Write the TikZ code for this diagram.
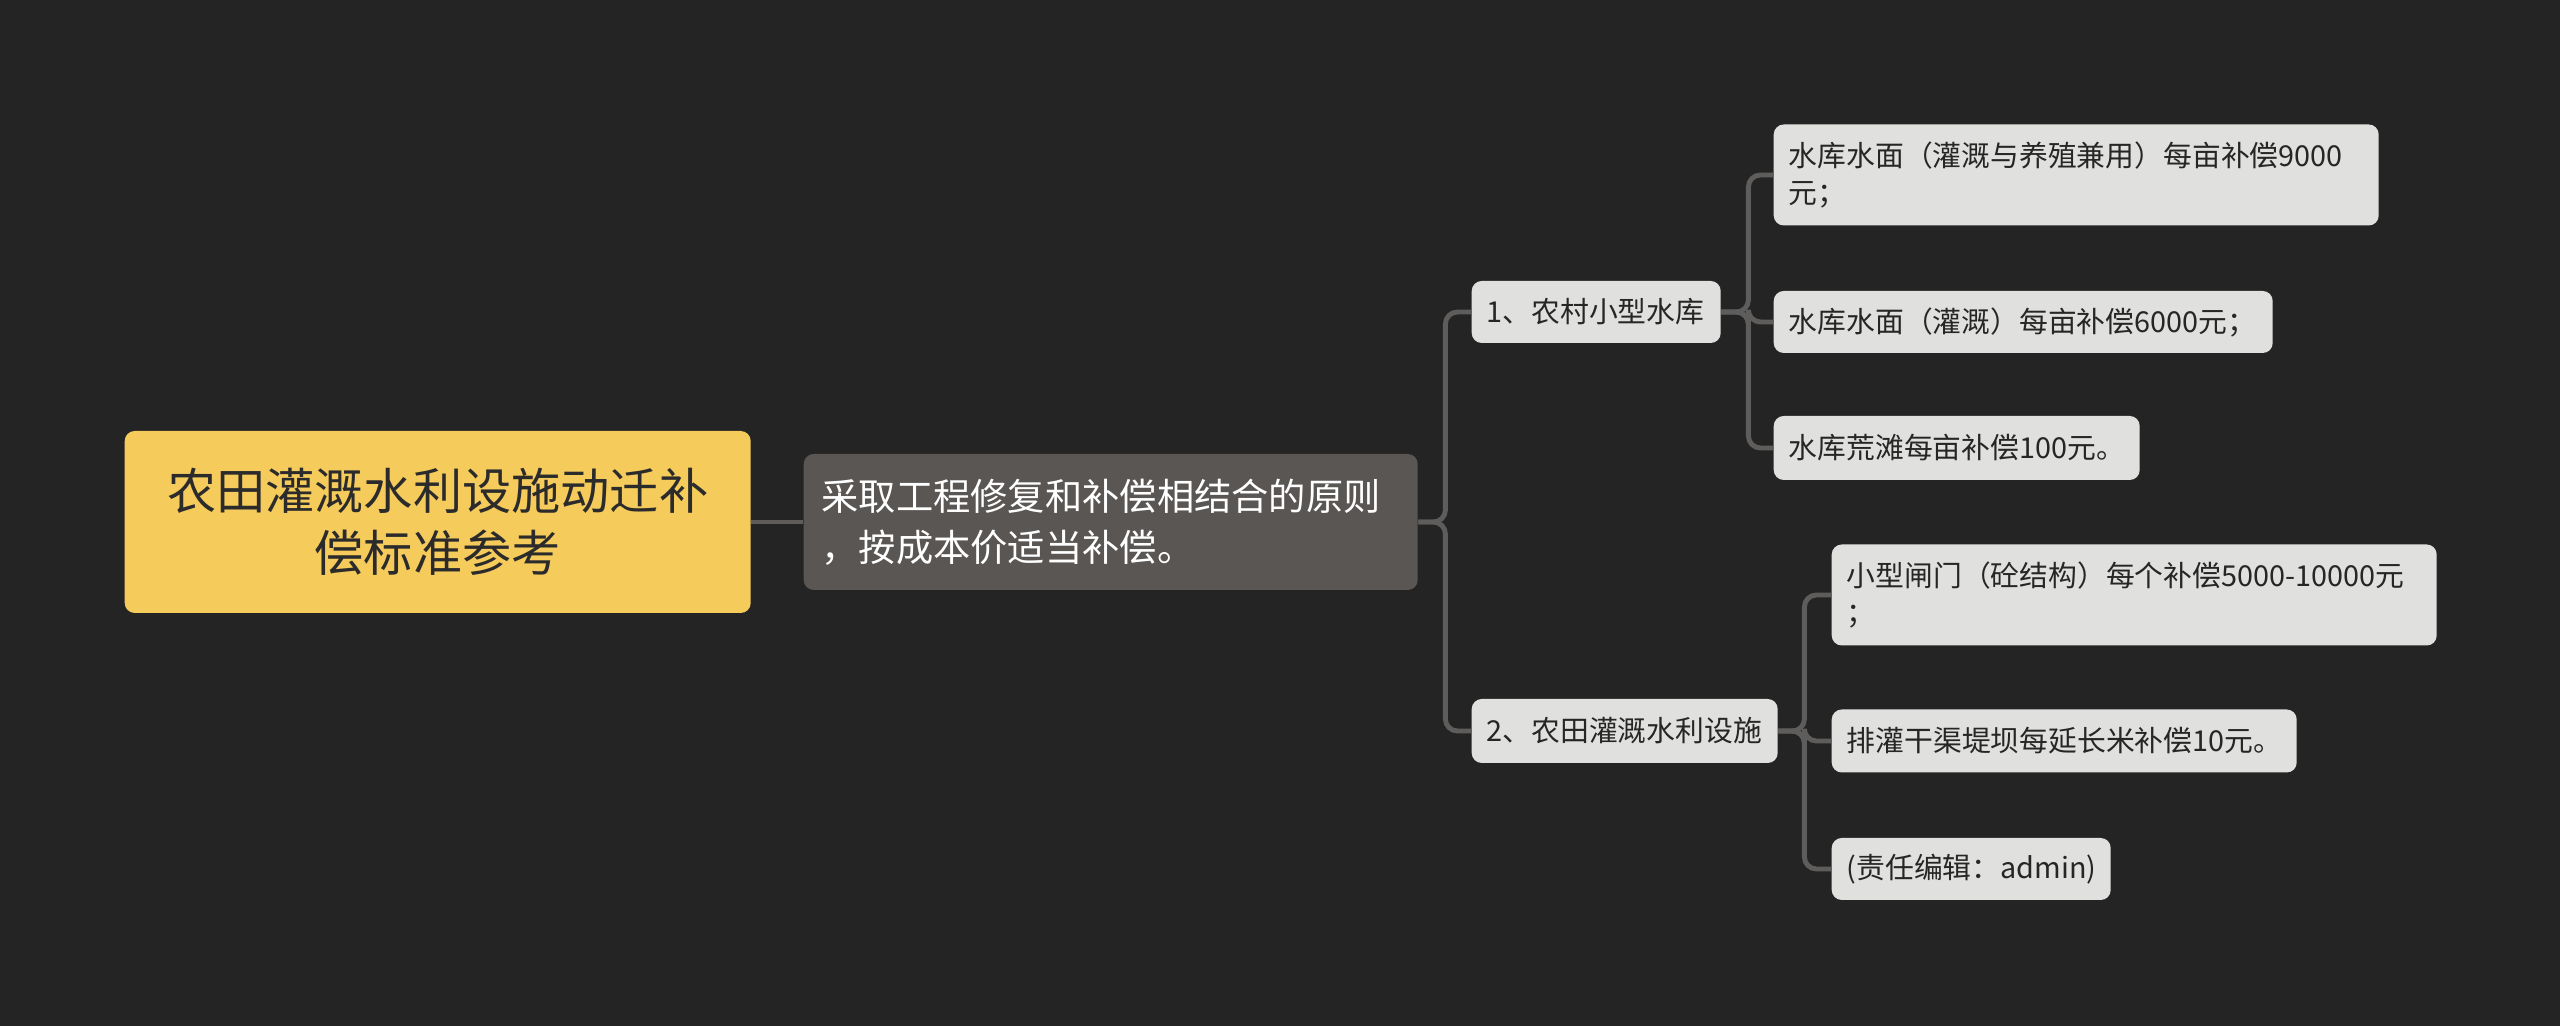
\documentclass[tikz,border=0pt]{standalone}
\usepackage{fontspec}
\setmainfont{Noto Sans CJK SC}
\definecolor{bgdark}{HTML}{242424}
\definecolor{rootyellow}{HTML}{F5CB5C}
\definecolor{roottext}{HTML}{2B2B2B}
\definecolor{causegrey}{HTML}{595654}
\definecolor{itemgrey}{HTML}{E0E0DE}
\definecolor{itemtext}{HTML}{262626}
\definecolor{linegrey}{HTML}{5F5D5B}
\tikzset{
  box/.style={anchor=west, rounded corners=0.1cm, inner xsep=0.15cm, inner ysep=0pt, align=left},
  rootbox/.style={box, fill=rootyellow, text=roottext, align=center, font=\fontsize{14pt}{17.6pt}\selectfont},
  causebox/.style={box, fill=causegrey, text=white, inner xsep=0.18cm, font=\fontsize{10.6pt}{14.5pt}\selectfont},
  itembox/.style={box, fill=itemgrey, text=itemtext, font=\fontsize{8.2pt}{10.8pt}\selectfont},
  link/.style={draw=linegrey, line width=1.4pt, rounded corners=0.12cm}
}

\begin{document}
\begin{tikzpicture}
  \useasboundingbox (0,0) rectangle (25.6,-10.26);
  \fill[bgdark] (0,0) rectangle (25.6,-10.26);

  \node[rootbox, text width=5.96cm, minimum height=1.82cm] (root) at (1.24,-5.22) {农田灌溉水利设施动迁补\\偿标准参考};
  \node[causebox, text width=5.78cm, minimum height=1.36cm] (cause) at (8.03,-5.22) {采取工程修复和补偿相结合的原则\\，按成本价适当补偿。};

  \node[itembox, text width=2.19cm, minimum height=0.62cm] (b1) at (14.71,-3.12) {1、农村小型水库};
  \node[itembox, text width=2.76cm, minimum height=0.64cm] (b2) at (14.71,-7.31) {2、农田灌溉水利设施};

  \node[itembox, text width=5.75cm, minimum height=1.01cm] (r1) at (17.73,-1.75) {水库水面（灌溉与养殖兼用）每亩补偿9000\\元；};
  \node[itembox, text width=4.69cm, minimum height=0.62cm] (r2) at (17.73,-3.22) {水库水面（灌溉）每亩补偿6000元；};
  \node[itembox, text width=3.36cm, minimum height=0.64cm] (r3) at (17.73,-4.48) {水库荒滩每亩补偿100元。};

  \node[itembox, text width=5.75cm, minimum height=1.01cm] (g1) at (18.31,-5.95) {小型闸门（砼结构）每个补偿5000-10000元\\；};
  \node[itembox, text width=4.35cm, minimum height=0.63cm] (g2) at (18.31,-7.41) {排灌干渠堤坝每延长米补偿10元。};
  \node[itembox, text width=2.49cm, minimum height=0.62cm] (g3) at (18.31,-8.69) {(责任编辑：admin)};

  \draw[link] (root.east) -- (cause.west);
  \foreach \br in {b1,b2}
    \draw[link] (cause.east) -- ++(0.27,0) |- (\br.west);
  \foreach \leaf in {r1,r2,r3}
    \draw[link] (b1.east) -- ++(0.27,0) |- (\leaf.west);
  \foreach \leaf in {g1,g2,g3}
    \draw[link] (b2.east) -- ++(0.26,0) |- (\leaf.west);
\end{tikzpicture}
\end{document}
